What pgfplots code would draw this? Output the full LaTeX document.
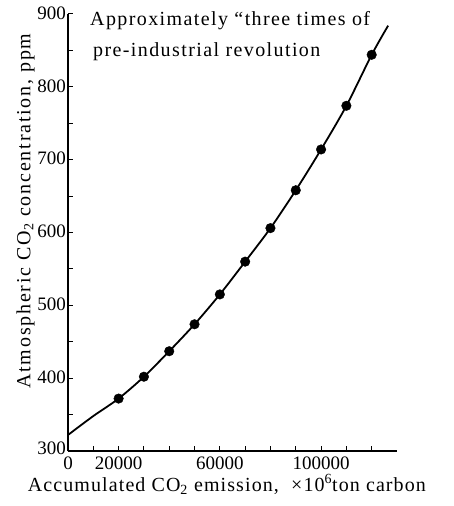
\documentclass[border=0pt]{standalone}
\usepackage{fontspec}
\setmainfont{Liberation Serif}
\usepackage{pgfplots}
\pgfplotsset{compat=1.18}
\newcommand{\lblfont}[1]{\fontsize{20}{20}\selectfont\addfontfeature{LetterSpace=#1}}
\begin{document}
\begin{tikzpicture}
\useasboundingbox (-68pt,-55pt) rectangle (385pt,451pt);
\begin{axis}[
  at={(0pt,0pt)}, anchor=south west,
  scale only axis, width=329pt, height=437pt,
  xmin=0, xmax=130000, ymin=300, ymax=900,
  axis lines*=left,
  axis line style={line width=1.1pt},
  tick align=inside,
  major tick length=5pt,
  tick style={line width=1pt, black},
  scaled x ticks=false, scaled y ticks=false,
  xtick={0,10000,...,120000},
  xticklabels={0,,20000,,,,60000,,,,100000,,},
  ytick={300,350,...,900},
  yticklabels={\raisebox{4pt}{300},,400,,500,,600,,700,,800,,900},
  every tick label/.append style={font=\fontsize{19}{19}\selectfont, inner sep=0pt},
  xticklabel style={yshift=-6pt},
  yticklabel style={xshift=-2pt, yshift=1pt},
  xlabel={Accumulated CO\textsubscript{2} emission, \ ×10\textsuperscript{6}ton carbon},
  ylabel={Atmospheric CO\textsubscript{2} concentration, ppm},
  xlabel style={font=\lblfont{5.5}, at={(axis description cs:0.483,0)}, anchor=base, yshift=-40pt},
  ylabel style={font=\lblfont{9}, at={(axis description cs:-0.129,0.549)}, anchor=center},
  clip=false,
]
\addplot[black, line width=1.8pt, smooth, tension=0.5] coordinates {
  (0,322) (10000,348) (20000,372) (30000,402) (40000,437) (50000,474)
  (60000,515) (70000,560) (80000,606) (90000,658) (100000,714)
  (110000,774) (120000,844) (126500,884)
};
\addplot[only marks, mark=*, mark size=4.8pt, black] coordinates {
  (20000,372) (30000,402) (40000,437) (50000,474) (60000,515)
  (70000,560) (80000,606) (90000,658) (100000,714) (110000,774) (120000,844)
};
\node[anchor=base west, font=\lblfont{7}, inner sep=0pt] at (rel axis cs:0.0669,0.9748) {Approximately ``three times of};
\node[anchor=base west, font=\lblfont{7}, inner sep=0pt] at (rel axis cs:0.076,0.9016) {pre-industrial revolution};
\end{axis}
\end{tikzpicture}
\end{document}
